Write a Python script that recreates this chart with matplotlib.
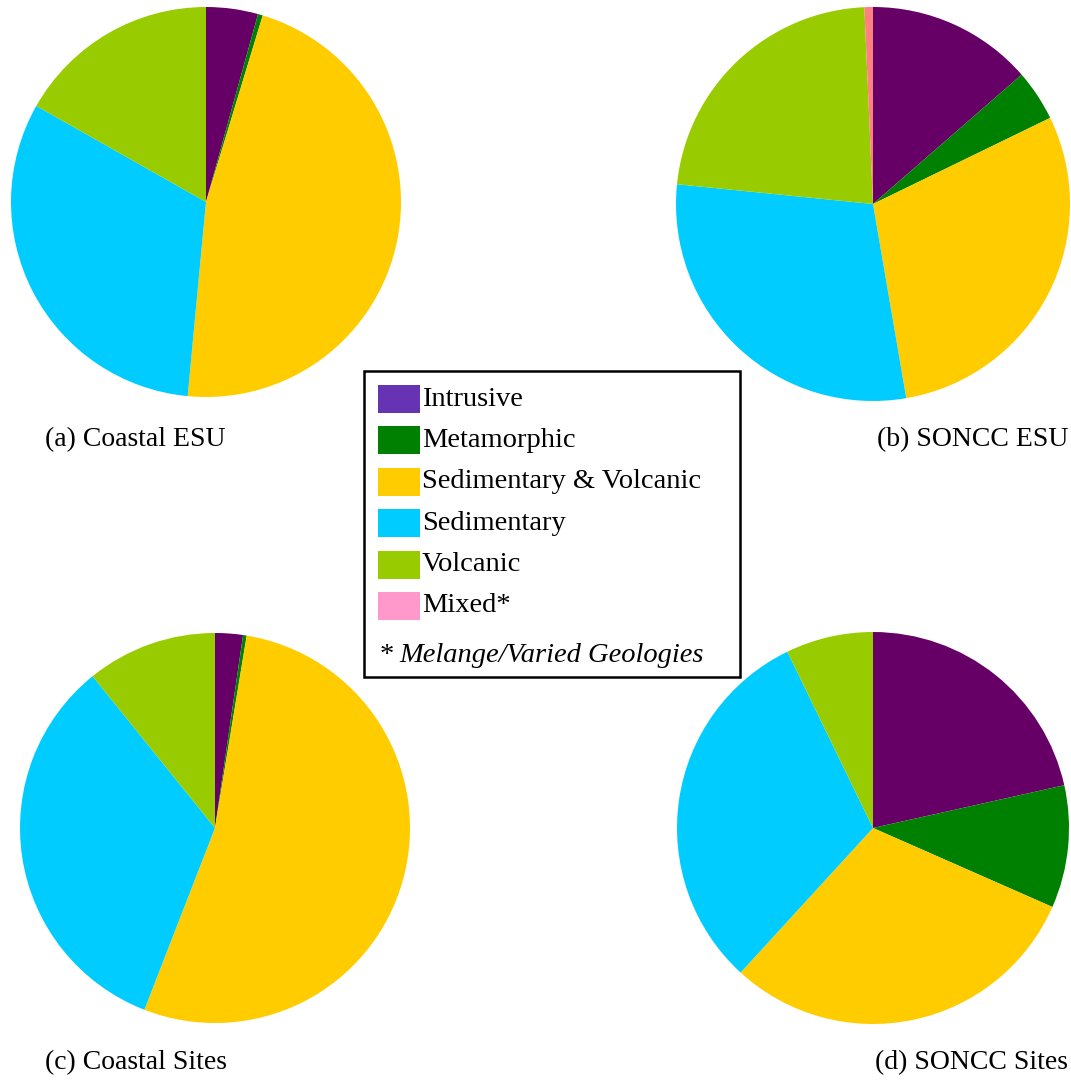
import matplotlib
matplotlib.use('Agg')
import matplotlib.pyplot as plt
from matplotlib.patches import Rectangle

plt.rcParams['font.family'] = ['Liberation Serif', 'DejaVu Serif']

# geology classes, in drawing order (clockwise from 12 o'clock)
classes = ['Intrusive', 'Metamorphic', 'Sedimentary & Volcanic', 'Sedimentary', 'Volcanic', 'Mixed*']
pie_colors = ['#660066', '#008000', '#ffcc00', '#00ccff', '#99cc00', '#ff8080']
legend_colors = ['#6633b3', '#008000', '#ffcc00', '#00ccff', '#99cc00', '#ff99cc']

# percentage shares
coastal_esu = [4.3, 0.4, 46.8, 31.7, 16.8, 0.0]
soncc_esu = [13.6, 4.2, 29.5, 29.3, 22.7, 0.7]
coastal_sites = [2.3, 0.3, 53.3, 33.3, 10.8, 0.0]
soncc_sites = [21.5, 10.1, 30.2, 31.0, 7.2, 0.0]

captions = ['(a) Coastal ESU', '(b) SONCC ESU', '(c) Coastal Sites', '(d) SONCC Sites']

W, H = 1071, 1080
fig = plt.figure(figsize=(W / 100, H / 100), dpi=100)


def px_axes(cx, cy, r):
    return fig.add_axes([(cx - r) / W, (H - cy - r) / H, 2 * r / W, 2 * r / H])


panels = [
    (coastal_esu, (206, 202, 195)),
    (soncc_esu, (873, 204, 197)),
    (coastal_sites, (215, 828, 195)),
    (soncc_sites, (873, 828, 196)),
]

for vals, (cx, cy, r) in panels:
    ax = px_axes(cx, cy, r)
    ax.pie(vals, colors=pie_colors, startangle=90, counterclock=False,
           wedgeprops=dict(linewidth=0))
    ax.set_xlim(-1, 1)
    ax.set_ylim(-1, 1)
    ax.axis('off')

# captions
fs_cap = 20
fig.text(45 / W, 1 - 440 / H, captions[0], ha='left', va='center', fontsize=fs_cap)
fig.text(1068 / W, 1 - 440 / H, captions[1], ha='right', va='center', fontsize=fs_cap)
fig.text(45 / W, 1 - 1063 / H, captions[2], ha='left', va='center', fontsize=fs_cap)
fig.text(1068 / W, 1 - 1063 / H, captions[3], ha='right', va='center', fontsize=fs_cap)

# legend box drawn by hand
fs_leg = 20.5
fig.patches.append(Rectangle((364 / W, 1 - 677 / H), (740 - 364) / W, (677 - 371) / H,
                             transform=fig.transFigure, facecolor='white',
                             edgecolor='black', linewidth=1.8))
for i, (lab, col) in enumerate(zip(classes, legend_colors)):
    yc = 399 + i * 41.4
    fig.patches.append(Rectangle((378 / W, 1 - (yc + 14) / H), 42 / W, 28 / H,
                                 transform=fig.transFigure, facecolor=col, edgecolor='none'))
    fig.text(422 / W, 1 - yc / H, lab, ha='left', va='center', fontsize=fs_leg)
fig.text(380 / W, 1 - 655 / H, '*', ha='left', va='center', fontsize=fs_leg)
fig.text(399 / W, 1 - 655 / H, 'Melange/Varied Geologies', ha='left', va='center',
         fontsize=fs_leg, style='italic')

fig.savefig('out.png', dpi=100)
